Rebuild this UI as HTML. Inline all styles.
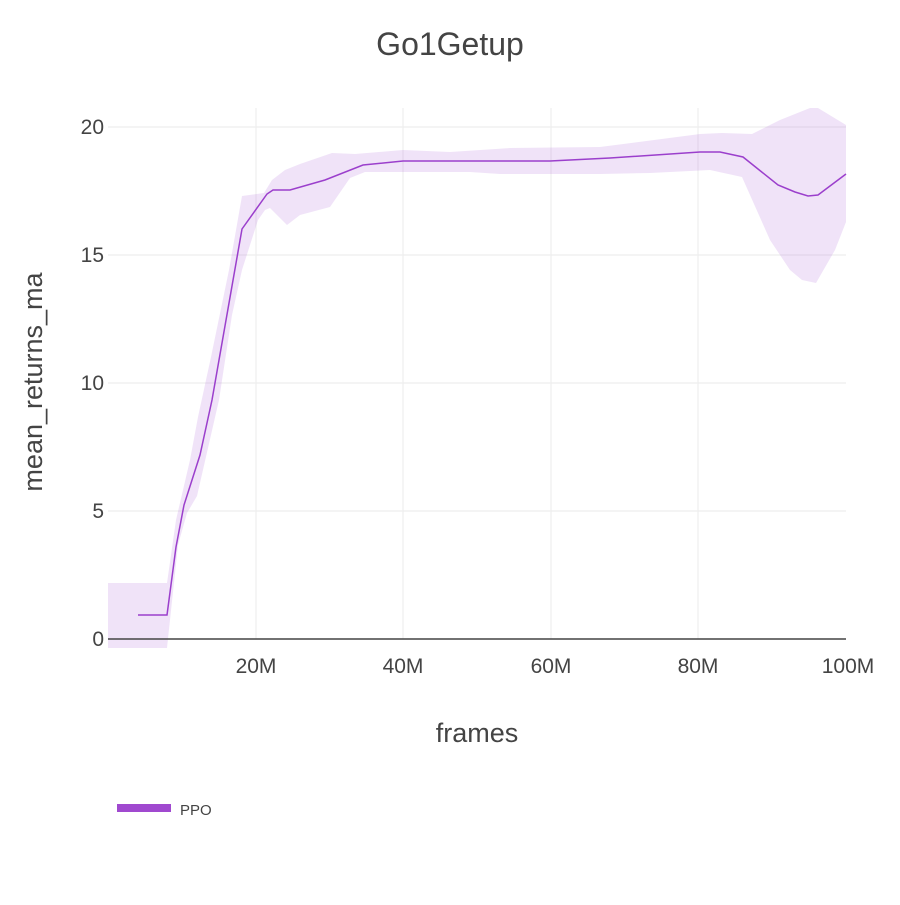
<!DOCTYPE html>
<html><head><meta charset="utf-8"><style>
body{margin:0;background:#fff;}
text{font-family:"Liberation Sans",sans-serif;fill:#444;}
</style></head><body>
<svg width="900" height="900" xmlns="http://www.w3.org/2000/svg">
<rect width="900" height="900" fill="#fff"/>
<g stroke="#eee" stroke-width="1.2">
<line x1="108" y1="127" x2="846" y2="127"/>
<line x1="108" y1="255" x2="846" y2="255"/>
<line x1="108" y1="383" x2="846" y2="383"/>
<line x1="108" y1="511" x2="846" y2="511"/>
<line x1="256" y1="108" x2="256" y2="639"/>
<line x1="403" y1="108" x2="403" y2="639"/>
<line x1="551" y1="108" x2="551" y2="639"/>
<line x1="698" y1="108" x2="698" y2="639"/>
</g>
<polygon fill="rgba(171,99,214,0.18)" points="108,583 167,583 176,520 190,460 198,417 211,357 229,270 242,196 264,193 272,180 285,170 300,164 332,153 355,154 403,150 450,152 510,148 600,147 700,134 722,133 752,134 780,120 810,108 818,108 846,125 846,222 835,250 816,283 802,280 790,270 770,240 742,177 710,170 650,173 600,174 500,174 470,172 400,172 365,172 350,178 330,207 300,215 287,225 270,208 265,210 258,220 242,270 232,315 219,400 197,496 187,513 178,545 167,648 108,648"/>
<line x1="108" y1="639" x2="846" y2="639" stroke="#444" stroke-width="1.5"/>
<polyline fill="none" stroke="#9b3fcc" stroke-width="1.5" points="138,615 167,615 176,547 184,505 200,455 212,400 242,229 267,194 273,190 290,190 325,180 363,165 403,161 550,161 610,158 700,152 720,152 743,157 778,185 795,192 808,196 818,195 846,174"/>
<g font-size="21" text-anchor="end">
<text x="104" y="134">20</text>
<text x="104" y="262">15</text>
<text x="104" y="390">10</text>
<text x="104" y="518">5</text>
<text x="104" y="646">0</text>
</g>
<g font-size="21" text-anchor="middle">
<text x="256" y="673">20M</text>
<text x="403" y="673">40M</text>
<text x="551" y="673">60M</text>
<text x="698" y="673">80M</text>
<text x="848" y="673">100M</text>
</g>
<text x="450" y="55" font-size="32" text-anchor="middle">Go1Getup</text>
<text x="477" y="742" font-size="27" text-anchor="middle">frames</text>
<text transform="translate(42,382) rotate(-90)" font-size="27" text-anchor="middle">mean_returns_ma</text>
<rect x="117" y="804" width="54" height="8" fill="#9b3fcc" opacity="0.95"/>
<text x="180" y="815" font-size="15">PPO</text>
</svg>
</body></html>
